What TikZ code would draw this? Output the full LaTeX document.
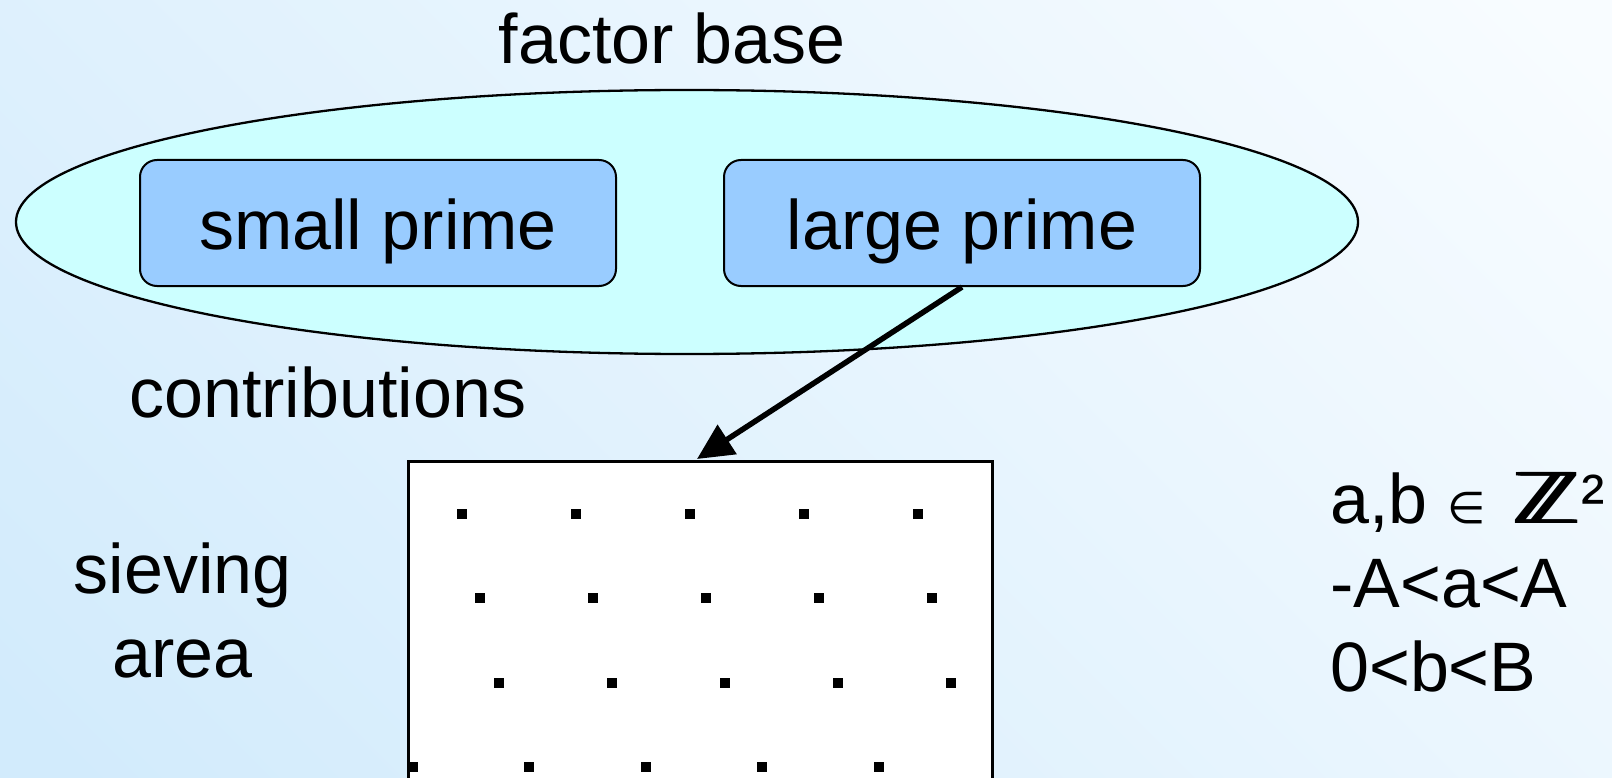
\documentclass[tikz,border=0pt]{standalone}
\usepackage{fontspec}
\usepackage{graphicx}
\setmainfont{Liberation Sans}
\newfontfamily\dejavu{DejaVu Sans}
\usetikzlibrary{shapes.geometric,arrows.meta}
\definecolor{bgdark}{RGB}{210,235,252}
\definecolor{bglight}{RGB}{248,252,255}
\definecolor{ellfill}{RGB}{204,255,255}
\definecolor{boxfill}{RGB}{153,204,255}
\newcommand{\boldZZ}{\scalebox{1.25}[1]{\dejavu\rlap{ℤ}\hspace{1.2pt}\rlap{ℤ}\hspace{1.2pt}\rlap{ℤ}\hspace{1.2pt}ℤ}}
\tikzset{
  txt/.style={inner sep=0pt, font=\fontsize{70pt}{84pt}\selectfont},
  primebox/.style={draw=black, line width=2pt, fill=boxfill, rounded corners=17pt,
    minimum width=476pt, minimum height=126pt, inner sep=0pt,
    text height=62pt, text depth=8pt, font=\fontsize{70pt}{84pt}\selectfont},
  fbase/.style={ellipse, draw=black, line width=2.3pt, fill=ellfill,
    minimum width=1342pt, minimum height=264pt, inner sep=0pt},
  sievebox/.style={draw=black, line width=2.5pt, fill=white, inner sep=0pt,
    minimum width=584pt, minimum height=360pt},
  latdot/.style={fill=black, minimum size=10pt, inner sep=0pt},
  bigarrow/.style={line width=5.5pt, -{Triangle[length=36pt,width=34pt]}}
}
\begin{document}
\begin{tikzpicture}[x=1pt,y=1pt]
\useasboundingbox (0,0) rectangle (1612,-778);
\clip (0,0) rectangle (1612,-778);
\shade[top color=bglight, bottom color=bgdark, shading angle=-45] (-200,200) rectangle (1812,-978);
% factor base
\node[fbase] (fb) at (687,-222) {};
\node[txt, anchor=base] (fbl) at (672,-63.5) {factor base};
\node[primebox] (sp) at (378,-223) {small prime};
\node[primebox] (lp) at (962,-223) {large prime};
\node[txt, anchor=base west] (contrib) at (129,-417) {contributions};
% sieving area
\node[sievebox, anchor=north west] (sieve) at (407,-460) {};
\foreach \x/\y [count=\i] in {462/514,576/514,690/514,804/514,918/514,
  480/598,593/598,706/598,819/598,932/598,
  499/683,612/683,725/683,838/683,951/683,
  413/767,529/767,646/767,762/767,879/767}
  \node[latdot] (d\i) at (\x,-\y) {};
\coordinate (tip) at (697,-459);
\draw[bigarrow] (lp.south) -- (tip);
\node[txt, align=center, anchor=base] (sa) at (182.5,-677) {sieving\\area};
\node[txt, align=left, anchor=base west] (cond) at (1330,-691)
  {a,b\hspace{20pt}{\dejavu\fontsize{44pt}{44pt}\selectfont ∈}\hspace{26pt}\boldZZ²\\-A<a<A\\0<b<B};
\end{tikzpicture}
\end{document}
